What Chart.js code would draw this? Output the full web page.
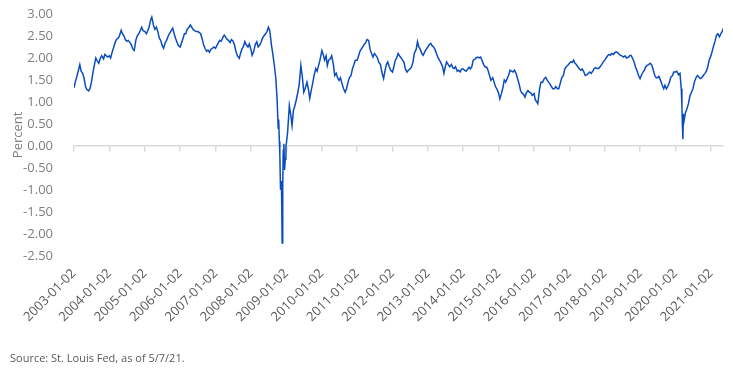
<!DOCTYPE html>
<html>
<head>
<meta charset="utf-8">
<script src="https://cdn.jsdelivr.net/npm/chart.js@4"></script>
<style>
  html, body { margin: 0; padding: 0; background: #fff; }
  #wrap { width: 733px; height: 375px; }
</style>
</head>
<body>
<div id="wrap"><canvas id="chart-breakeven" width="733" height="375"></canvas></div>
<script>
// 5-year breakeven (roughly twice a month)
const dates = [
  '2003-01-02','2003-01-15','2003-02-03','2003-02-20','2003-03-03','2003-03-17','2003-04-01','2003-04-15','2003-05-01','2003-05-15','2003-06-02','2003-06-16','2003-07-01','2003-07-15','2003-08-01','2003-08-15','2003-09-02','2003-09-15','2003-10-01','2003-10-15','2003-11-03','2003-11-17','2003-12-01','2003-12-15',
  '2004-01-02','2004-01-15','2004-02-02','2004-02-17','2004-03-01','2004-03-15','2004-04-01','2004-04-15','2004-05-03','2004-05-17','2004-06-01','2004-06-15','2004-07-01','2004-07-15','2004-08-02','2004-08-16','2004-09-01','2004-09-15','2004-10-01','2004-10-15','2004-11-01','2004-11-15','2004-12-01','2004-12-15',
  '2005-01-03','2005-01-18','2005-02-01','2005-02-15','2005-03-01','2005-03-15','2005-04-01','2005-04-15','2005-05-02','2005-05-16','2005-06-01','2005-06-15','2005-07-01','2005-07-15','2005-08-01','2005-08-15','2005-09-01','2005-09-15','2005-10-03','2005-10-17','2005-11-01','2005-11-15','2005-12-01','2005-12-15',
  '2006-01-03','2006-01-17','2006-02-01','2006-02-15','2006-03-01','2006-03-15','2006-04-03','2006-04-17','2006-05-01','2006-05-15','2006-06-01','2006-06-15','2006-07-03','2006-07-17','2006-08-01','2006-08-15','2006-09-01','2006-09-15','2006-10-02','2006-10-16','2006-11-01','2006-11-15','2006-12-01','2006-12-15',
  '2007-01-02','2007-01-16','2007-02-01','2007-02-15','2007-03-01','2007-03-15','2007-04-02','2007-04-16','2007-05-01','2007-05-15','2007-06-01','2007-06-15','2007-07-02','2007-07-16','2007-08-01','2007-08-15','2007-09-04','2007-09-17','2007-10-01','2007-10-15','2007-11-01','2007-11-15','2007-12-03','2007-12-17',
  '2008-01-02','2008-01-15','2008-02-01','2008-02-15','2008-03-03','2008-03-17','2008-04-01','2008-04-15','2008-05-01','2008-05-15','2008-06-02','2008-06-16','2008-07-01','2008-07-15','2008-08-01','2008-08-15','2008-09-02','2008-09-15','2008-09-29','2008-10-10','2008-10-15','2008-10-22','2008-10-27','2008-11-03','2008-11-10','2008-11-14','2008-11-20','2008-11-26','2008-12-01','2008-12-08','2008-12-15','2008-12-22','2008-12-29',
  '2009-01-02','2009-01-15','2009-02-02','2009-02-17','2009-03-02','2009-03-16','2009-04-01','2009-04-15','2009-05-01','2009-05-15','2009-06-01','2009-06-15','2009-07-01','2009-07-15','2009-08-03','2009-08-17','2009-09-01','2009-09-15','2009-10-01','2009-10-15','2009-11-02','2009-11-16','2009-12-01','2009-12-15',
  '2010-01-04','2010-01-15','2010-02-01','2010-02-16','2010-03-01','2010-03-15','2010-04-01','2010-04-15','2010-05-03','2010-05-17','2010-06-01','2010-06-15','2010-07-01','2010-07-15','2010-08-02','2010-08-16','2010-09-01','2010-09-15','2010-10-01','2010-10-15','2010-11-01','2010-11-15','2010-12-01','2010-12-15',
  '2011-01-03','2011-01-18','2011-02-01','2011-02-15','2011-03-01','2011-03-15','2011-04-01','2011-04-15','2011-05-02','2011-05-16','2011-06-01','2011-06-15','2011-07-01','2011-07-15','2011-08-01','2011-08-15','2011-09-01','2011-09-15','2011-10-03','2011-10-17','2011-11-01','2011-11-15','2011-12-01','2011-12-15',
  '2012-01-03','2012-01-17','2012-02-01','2012-02-15','2012-03-01','2012-03-15','2012-04-02','2012-04-16','2012-05-01','2012-05-15','2012-06-01','2012-06-15','2012-07-02','2012-07-16','2012-08-01','2012-08-15','2012-09-04','2012-09-17','2012-10-01','2012-10-15','2012-11-01','2012-11-15','2012-12-03','2012-12-17',
  '2013-01-02','2013-01-15','2013-02-01','2013-02-15','2013-03-01','2013-03-15','2013-04-01','2013-04-15','2013-05-01','2013-05-15','2013-06-03','2013-06-17','2013-07-01','2013-07-15','2013-08-01','2013-08-15','2013-09-03','2013-09-16','2013-10-01','2013-10-15','2013-11-01','2013-11-15','2013-12-02','2013-12-16',
  '2014-01-02','2014-01-15','2014-02-03','2014-02-18','2014-03-03','2014-03-17','2014-04-01','2014-04-15','2014-05-01','2014-05-15','2014-06-02','2014-06-16','2014-07-01','2014-07-15','2014-08-01','2014-08-15','2014-09-02','2014-09-15','2014-10-01','2014-10-15','2014-11-03','2014-11-17','2014-12-01','2014-12-15',
  '2015-01-02','2015-01-15','2015-02-02','2015-02-17','2015-03-02','2015-03-16','2015-04-01','2015-04-15','2015-05-01','2015-05-15','2015-06-01','2015-06-15','2015-07-01','2015-07-15','2015-08-03','2015-08-17','2015-09-01','2015-09-15','2015-10-01','2015-10-15','2015-11-02','2015-11-16','2015-12-01','2015-12-15',
  '2016-01-04','2016-01-15','2016-02-01','2016-02-11','2016-03-01','2016-03-15','2016-04-01','2016-04-15','2016-05-02','2016-05-16','2016-06-01','2016-06-15','2016-07-01','2016-07-15','2016-08-01','2016-08-15','2016-09-01','2016-09-15','2016-10-03','2016-10-17','2016-11-01','2016-11-15','2016-12-01','2016-12-15',
  '2017-01-03','2017-01-17','2017-02-01','2017-02-15','2017-03-01','2017-03-15','2017-04-03','2017-04-17','2017-05-01','2017-05-15','2017-06-01','2017-06-15','2017-07-03','2017-07-17','2017-08-01','2017-08-15','2017-09-01','2017-09-15','2017-10-02','2017-10-16','2017-11-01','2017-11-15','2017-12-01','2017-12-15',
  '2018-01-02','2018-01-16','2018-02-01','2018-02-15','2018-03-01','2018-03-15','2018-04-02','2018-04-16','2018-05-01','2018-05-15','2018-06-01','2018-06-15','2018-07-02','2018-07-16','2018-08-01','2018-08-15','2018-09-04','2018-09-17','2018-10-01','2018-10-15','2018-11-01','2018-11-15','2018-12-03','2018-12-17',
  '2019-01-02','2019-01-15','2019-02-01','2019-02-15','2019-03-01','2019-03-15','2019-04-01','2019-04-15','2019-05-01','2019-05-15','2019-06-03','2019-06-17','2019-07-01','2019-07-15','2019-08-01','2019-08-15','2019-09-03','2019-09-16','2019-10-01','2019-10-15','2019-11-01','2019-11-15','2019-12-02','2019-12-16',
  '2020-01-02','2020-01-15','2020-02-03','2020-02-18','2020-03-02','2020-03-09','2020-03-13','2020-03-19','2020-03-24','2020-03-31','2020-04-15','2020-05-01','2020-05-15','2020-06-01','2020-06-15','2020-07-01','2020-07-15','2020-08-03','2020-08-17','2020-09-01','2020-09-15','2020-10-01','2020-10-15','2020-11-02','2020-11-16','2020-12-01','2020-12-15',
  '2021-01-04','2021-01-15','2021-02-01','2021-02-16','2021-03-01','2021-03-15','2021-04-01','2021-04-15','2021-05-03','2021-05-07'
]

const values = [
  1.32, 1.45, 1.60, 1.75, 1.85, 1.70, 1.65, 1.55, 1.35, 1.28, 1.25, 1.30, 1.45, 1.65, 1.85, 2.00, 1.92, 1.88, 2.00, 2.05, 1.98, 2.08, 2.05, 2.02,
  2.05, 2.00, 2.15, 2.25, 2.35, 2.42, 2.45, 2.50, 2.63, 2.55, 2.50, 2.42, 2.38, 2.40, 2.35, 2.30, 2.20, 2.17, 2.40, 2.50, 2.55, 2.62, 2.70, 2.62,
  2.60, 2.55, 2.62, 2.70, 2.85, 2.93, 2.75, 2.65, 2.70, 2.60, 2.45, 2.40, 2.28, 2.22, 2.35, 2.40, 2.50, 2.56, 2.63, 2.68, 2.55, 2.45, 2.35, 2.28,
  2.25, 2.35, 2.45, 2.55, 2.55, 2.65, 2.70, 2.75, 2.70, 2.65, 2.62, 2.60, 2.60, 2.58, 2.55, 2.45, 2.30, 2.22, 2.15, 2.18, 2.13, 2.20, 2.22, 2.25,
  2.22, 2.28, 2.35, 2.40, 2.38, 2.45, 2.52, 2.48, 2.42, 2.40, 2.35, 2.42, 2.38, 2.30, 2.15, 2.05, 1.99, 2.10, 2.20, 2.25, 2.37, 2.30, 2.25, 2.32,
  2.20, 2.06, 2.15, 2.30, 2.37, 2.25, 2.29, 2.35, 2.45, 2.50, 2.55, 2.60, 2.70, 2.62, 2.30, 2.10, 1.80, 1.55, 1.05, 0.40, 0.60, 0.10, -0.20, -1.00, -0.80, -1.05, -2.21, -0.90, -0.10, 0.05, -0.55, -0.30, 0.00,
  0.05, 0.30, 0.92, 0.70, 0.46, 0.80, 0.92, 1.05, 1.22, 1.40, 1.83, 1.60, 1.22, 1.30, 1.45, 1.30, 1.08, 1.25, 1.42, 1.60, 1.76, 1.70, 1.83, 1.95,
  2.17, 2.10, 1.95, 2.05, 1.83, 1.95, 1.98, 2.05, 1.85, 1.60, 1.65, 1.55, 1.49, 1.55, 1.40, 1.30, 1.22, 1.30, 1.45, 1.55, 1.60, 1.75, 1.85, 1.95,
  1.95, 2.05, 2.15, 2.20, 2.25, 2.30, 2.35, 2.42, 2.40, 2.20, 2.10, 2.02, 2.10, 2.06, 2.00, 1.90, 1.85, 1.68, 1.53, 1.70, 1.85, 1.91, 1.80, 1.72,
  1.68, 1.80, 1.95, 2.00, 2.10, 2.05, 2.00, 1.95, 1.90, 1.75, 1.68, 1.72, 1.75, 1.79, 1.90, 2.10, 2.20, 2.37, 2.25, 2.20, 2.10, 2.06, 2.15, 2.20,
  2.25, 2.30, 2.33, 2.28, 2.25, 2.20, 2.10, 2.02, 1.95, 1.90, 1.80, 1.65, 1.80, 1.91, 1.85, 1.80, 1.85, 1.78, 1.76, 1.80, 1.70, 1.72, 1.68, 1.75,
  1.75, 1.72, 1.70, 1.75, 1.79, 1.75, 1.80, 1.95, 1.97, 2.00, 2.02, 2.00, 2.02, 1.95, 1.85, 1.80, 1.79, 1.72, 1.60, 1.49, 1.55, 1.45, 1.35, 1.30,
  1.20, 1.07, 1.20, 1.34, 1.50, 1.45, 1.53, 1.60, 1.72, 1.70, 1.68, 1.72, 1.65, 1.55, 1.40, 1.26, 1.20, 1.18, 1.11, 1.20, 1.26, 1.22, 1.20, 1.15,
  1.19, 1.05, 1.00, 0.96, 1.30, 1.45, 1.45, 1.52, 1.56, 1.50, 1.45, 1.41, 1.35, 1.30, 1.30, 1.35, 1.30, 1.30, 1.45, 1.56, 1.60, 1.75, 1.80, 1.83,
  1.88, 1.91, 1.90, 1.95, 1.88, 1.85, 1.79, 1.75, 1.72, 1.75, 1.68, 1.60, 1.62, 1.65, 1.68, 1.65, 1.70, 1.76, 1.78, 1.76, 1.76, 1.80, 1.85, 1.90,
  1.95, 2.00, 2.05, 2.08, 2.06, 2.10, 2.08, 2.12, 2.14, 2.12, 2.08, 2.06, 2.04, 2.02, 2.05, 2.00, 2.02, 2.05, 2.06, 2.00, 1.91, 1.80, 1.70, 1.60,
  1.53, 1.60, 1.68, 1.72, 1.80, 1.83, 1.85, 1.88, 1.85, 1.75, 1.60, 1.55, 1.55, 1.58, 1.49, 1.40, 1.30, 1.38, 1.30, 1.35, 1.45, 1.56, 1.60, 1.68,
  1.68, 1.70, 1.62, 1.65, 1.30, 0.90, 0.53, 0.15, 0.73, 0.57, 0.76, 0.85, 0.96, 1.15, 1.22, 1.30, 1.45, 1.56, 1.60, 1.56, 1.53, 1.55, 1.60, 1.65, 1.70, 1.80, 1.95,
  2.06, 2.15, 2.29, 2.40, 2.52, 2.55, 2.48, 2.55, 2.62, 2.67
]

const tickLabels = [
  '2003-01-02','2004-01-02','2005-01-02','2006-01-02','2007-01-02','2008-01-02','2009-01-02',
  '2010-01-02','2011-01-02','2012-01-02','2013-01-02','2014-01-02','2015-01-02','2016-01-02',
  '2017-01-02','2018-01-02','2019-01-02','2020-01-02','2021-01-02'
]

const yMin = -2.5
const yMax = 3
const yStep = 0.5

const FONT = "'Open Sans', sans-serif"

function toDay(s) {
  const [y, m, d] = s.split('-').map(Number)
  return Date.UTC(y, m - 1, d) / 864e5
}

const points = dates.map((d, i) => ({ x: toDay(d), y: values[i] }))
const tickDays = tickLabels.map(toDay)
const xMin = toDay(dates[0])
const xMax = toDay(dates[dates.length - 1])

const setYearTicks = axis => {
  axis.ticks = tickDays.map(v => ({ value: v }))
}

Chart.defaults.font.family = FONT

const ctx = document.getElementById('chart-breakeven').getContext('2d')

new Chart(ctx, {
  type: 'line',
  data: {
    datasets: [{
      label: 'Percent',
      data: points,
      borderColor: '#0a4cbf',
      borderWidth: 1.5,
      pointRadius: 0,
      tension: 0,
      fill: false
    }]
  },
  options: {
    responsive: false,
    animation: false,
    layout: {
      padding: { left: 10, right: 10, top: 14, bottom: 0 }
    },
    plugins: {
      legend: { display: false },
      tooltip: { enabled: false },
      title: {
        display: true,
        text: 'Source: St. Louis Fed, as of 5/7/21.',
        position: 'bottom',
        align: 'start',
        color: '#595959',
        font: { size: 11, weight: 'normal' },
        padding: { top: 0, bottom: 10 }
      }
    },
    scales: {
      x: {
        type: 'linear',
        min: xMin,
        max: xMax,
        position: 'bottom',
        grid: { display: false, drawTicks: false },
        border: { display: false },
        afterBuildTicks: setYearTicks,
        afterFit: scale => { scale.height = 96 },
        ticks: {
          autoSkip: false,
          minRotation: 45,
          maxRotation: 45,
          color: '#595959',
          font: { size: 13 },
          padding: 10,
          callback: (value, index) => tickLabels[index]
        }
      },
      zero: {
        type: 'linear',
        axis: 'x',
        min: xMin,
        max: xMax,
        position: { y: 0 },
        afterBuildTicks: setYearTicks,
        ticks: { display: false },
        grid: { drawOnChartArea: false, color: '#d9d9d9', tickLength: 5, lineWidth: 1.5 },
        border: { color: '#d9d9d9', width: 1.5 }
      },
      y: {
        min: yMin,
        max: yMax,
        grid: { display: false },
        border: { display: false },
        afterFit: scale => {
          scale.width = 64
          scale.paddingTop = 0
          scale.paddingBottom = 0
        },
        ticks: {
          stepSize: yStep,
          color: '#7f7f7f',
          font: { size: 13 },
          padding: 13,
          callback: value => value.toFixed(2)
        },
        title: {
          display: true,
          text: 'Percent',
          color: '#7f7f7f',
          font: { size: 13 },
          padding: 0
        }
      }
    }
  }
})
</script>
</body>
</html>
